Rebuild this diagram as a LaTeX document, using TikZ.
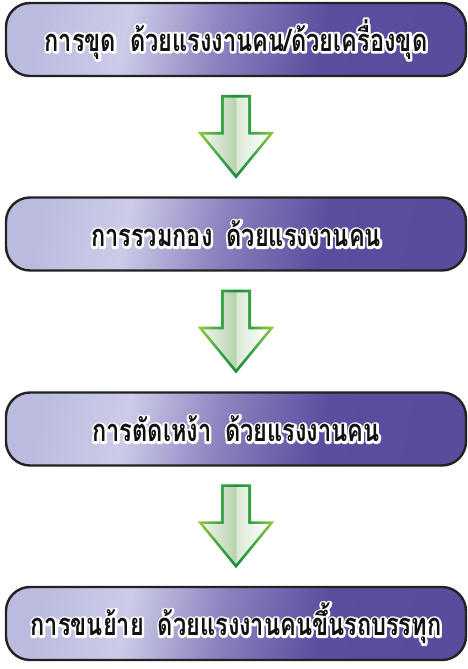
\documentclass[tikz,border=0pt]{standalone}
\usepackage{fontspec}
\newfontfamily\thaifont[Script=Thai,FakeStretch=0.76]{Loma}
\usetikzlibrary{calc}

\definecolor{boxline}{HTML}{222222}
\definecolor{textdark}{HTML}{111111}
\definecolor{pA}{HTML}{BBBBDF}
\definecolor{pB}{HTML}{CCCCE8}
\definecolor{pC}{HTML}{8C82BF}
\definecolor{pD}{HTML}{5D4D9F}
\definecolor{pE}{HTML}{5B4B9D}
\definecolor{gL}{HTML}{9CCB3B}
\definecolor{gM}{HTML}{36A447}
\definecolor{gD}{HTML}{1E8B3D}
\definecolor{fA}{HTML}{F1F4EF}
\definecolor{fB}{HTML}{D2E3CC}
\definecolor{fC}{HTML}{B8D2AE}
\definecolor{fD}{HTML}{DAE9D4}
\definecolor{fE}{HTML}{EDF4EA}
\definecolor{fF}{HTML}{FFFFFF}

\pgfdeclarehorizontalshading{boxshade}{100bp}{color(0bp)=(pA); color(25bp)=(pA); color(36bp)=(pB); color(48bp)=(pC); color(61bp)=(pD); color(75bp)=(pE); color(100bp)=(pE)}
\pgfdeclarehorizontalshading{arrline}{100bp}{color(0bp)=(gL); color(25bp)=(gL); color(40bp)=(gM); color(50bp)=(gD); color(60bp)=(gM); color(75bp)=(gL); color(100bp)=(gL)}
\pgfdeclarehorizontalshading{arrfill}{100bp}{color(0bp)=(fA); color(25bp)=(fA); color(38bp)=(fB); color(49.5bp)=(fC); color(50.5bp)=(fD); color(62bp)=(fE); color(75bp)=(fF); color(100bp)=(fF)}

\tikzset{
  stage/.style={draw=boxline, line width=2.4pt, rounded corners=24pt,
    minimum width=460pt, minimum height=73pt, inner sep=0pt,
    shading=boxshade, shading angle=-12,
    font=\thaifont\bfseries\fontsize{31}{35}\selectfont, text=textdark},
  arrowedge/.style={shading=arrline},
  arrowbody/.style={shading=arrfill},
}
% white outline under black text: stroke-only copy, then normal fill
\newcommand\stagetext[1]{\leavevmode\rlap{\special{pdf:code q 1 1 1 RG 4.5 w 1 j 1 J 1 Tr}#1\special{pdf:code Q}}#1}
\newcommand\gap{\hspace{0.45em}}
\newcommand\flowarrow[1]{%
  \begin{scope}[shift={(#1)}]
    \shade[arrowedge] (-15,0) -- (15,0) -- (15,37) -- (38.5,37) -- (0,84) -- (-38.5,37) -- (-15,37) -- cycle;
    \shade[arrowbody] (-12.2,2.8) -- (12.2,2.8) -- (12.2,39.8) -- (32.8,39.8) -- (0,79.6) -- (-32.8,39.8) -- (-12.2,39.8) -- cycle;
  \end{scope}}

\begin{document}
\begin{tikzpicture}[x=1pt,y=-1pt]
  \useasboundingbox (0,0) rectangle (468,669);
  \node[stage] (b1) at (236,39.5) {\stagetext{การขุด\gap ด้วยแรงงานคน/ด้วยเครื่องขุด}};
  \node[stage] (b2) at (236,234) {\stagetext{การรวมกอง\gap ด้วยแรงงานคน}};
  \node[stage] (b3) at (236,429) {\stagetext{การตัดเหง้า\gap ด้วยแรงงานคน}};
  \node[stage] (b4) at (236,623.5) {\stagetext{การขนย้าย\gap ด้วยแรงงานคนขึ้นรถบรรทุก}};
  \coordinate (a1) at ($(b1.south)!0.5!(b2.north)+(0,-42)$);
  \coordinate (a2) at ($(b2.south)!0.5!(b3.north)+(0,-42)$);
  \coordinate (a3) at ($(b3.south)!0.5!(b4.north)+(0,-42)$);
  \flowarrow{a1}
  \flowarrow{a2}
  \flowarrow{a3}
\end{tikzpicture}
\end{document}
